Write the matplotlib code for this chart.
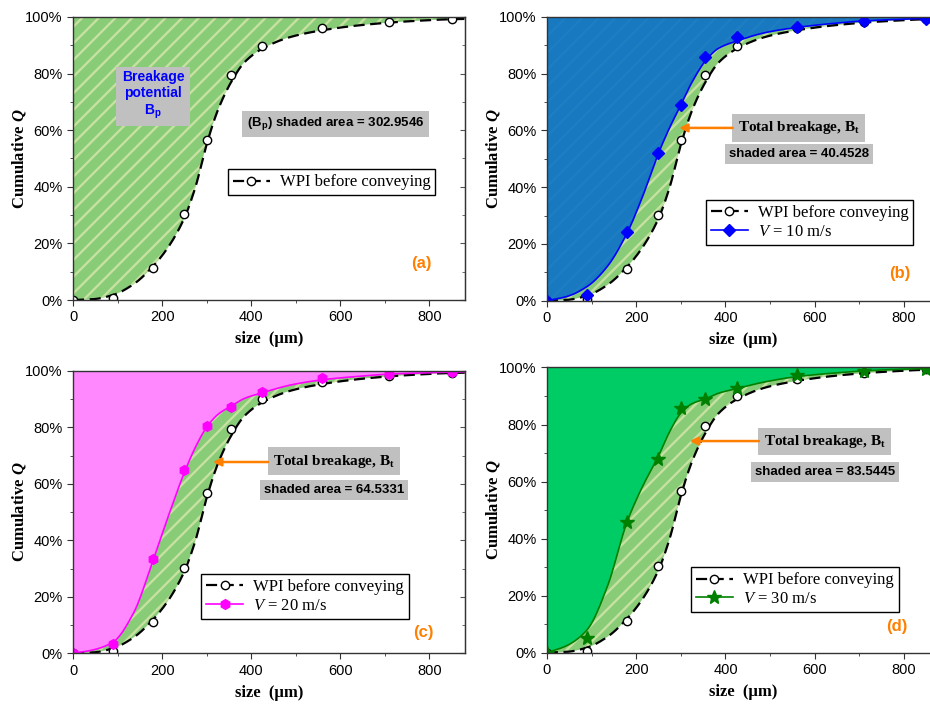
import matplotlib
matplotlib.use('Agg')
import matplotlib.pyplot as plt
from matplotlib.ticker import MultipleLocator, FuncFormatter
import numpy as np

plt.rcParams['font.family'] = ['Liberation Sans', 'DejaVu Sans']
plt.rcParams['mathtext.fontset'] = 'custom'
plt.rcParams['mathtext.rm'] = 'Liberation Serif'
plt.rcParams['mathtext.it'] = 'Liberation Serif:italic'
plt.rcParams['mathtext.bf'] = 'Liberation Serif:bold'
plt.rcParams['mathtext.bfit'] = 'Liberation Serif:italic:bold'
plt.rcParams['mathtext.sf'] = 'Liberation Sans:bold'
plt.rcParams['hatch.linewidth'] = 1.7

# measured points (sieve size in um, cumulative %)
sizes = [0, 90, 180, 250, 300, 355, 425, 560, 710, 850]
q_wpi = [0, 0.7, 11.2, 30.3, 56.7, 79.5, 89.9, 96.0, 98.2, 99.3]
q_10 = [0, 2.2, 24.1, 52.0, 68.9, 85.8, 92.8, 96.5, 98.5, 99.4]
q_20 = [0, 3.3, 33.3, 64.8, 80.4, 87.3, 92.6, 97.3, 98.9, 99.5]
q_30 = [0, 5.3, 45.9, 67.9, 85.9, 88.9, 92.9, 97.3, 98.8, 99.6]

# fitted curves
fit_x = [0, 45, 90, 135, 180, 215, 250, 275, 300, 325, 355, 385, 425, 490, 560, 640, 710, 780, 850, 880]
fit_wpi = [0, 0.3, 1.8, 5.5, 12, 19, 29, 40, 55, 67, 77, 84, 88.8, 93, 95.3, 97, 98, 98.7, 99.2, 99.3]
fit_10 = [0, 1.5, 5, 12, 24, 37, 52, 61, 69, 77, 84.5, 89, 91.5, 94.5, 96.3, 97.7, 98.6, 99.1, 99.5, 99.6]
fit_20 = [0, 1.2, 4, 14, 33, 49, 64, 73, 80, 84.5, 87.5, 90.2, 92.2, 95, 96.8, 98, 98.8, 99.2, 99.5, 99.6]
fit_30 = [0, 2.5, 8, 23, 46, 58.5, 69, 77.5, 84, 87.3, 89, 91, 92.6, 95, 96.8, 98, 98.8, 99.3, 99.6, 99.7]

areas = ['302.9546', '40.4528', '64.5331', '83.5445']


def pchip(xk, yk, xs):
    # monotone cubic, just for drawing the smooth line
    xk = np.asarray(xk, float)
    yk = np.asarray(yk, float)
    h = np.diff(xk)
    d = np.diff(yk) / h
    m = np.zeros_like(yk)
    m[0], m[-1] = d[0], d[-1]
    for k in range(1, len(xk) - 1):
        if d[k - 1] * d[k] > 0:
            w1 = 2 * h[k] + h[k - 1]
            w2 = h[k] + 2 * h[k - 1]
            m[k] = (w1 + w2) / (w1 / d[k - 1] + w2 / d[k])
    i = np.clip(np.searchsorted(xk, xs) - 1, 0, len(xk) - 2)
    t = (xs - xk[i]) / h[i]
    h00 = 2 * t**3 - 3 * t**2 + 1
    h10 = t**3 - 2 * t**2 + t
    h01 = -2 * t**3 + 3 * t**2
    h11 = t**3 - t**2
    return h00 * yk[i] + h10 * h[i] * m[i] + h01 * yk[i + 1] + h11 * h[i] * m[i + 1]


xs = np.linspace(0, 880, 600)
wpi_curve = pchip(fit_x, fit_wpi, xs)

fig = plt.figure(figsize=(9.3, 7.06), dpi=100)
axes = [
    fig.add_axes([0.0785, 0.575, 0.4215, 0.401]),
    fig.add_axes([0.588, 0.574, 0.4226, 0.402]),
    fig.add_axes([0.0785, 0.0746, 0.4215, 0.4003]),
    fig.add_axes([0.588, 0.0755, 0.4226, 0.404]),
]

panels = [
    dict(q=None, fit=None, color=None, fill=None, marker=None, label=None,
         tag='(a)', leg=(0.946, 0.491), tagpos=(781, 13)),
    dict(q=q_10, fit=fit_10, color='#0000ff', fill='#1878c0', hatch='#1e7ec3',
         marker='D', ms=6, label=r'$V$ = 10 m/s', tag='(b)', leg=(0.954, 0.384),
         tagpos=(790, 9.5), box=(564, 60.9, 51.8), arrow=(416, 296, 60.9)),
    dict(q=q_20, fit=fit_20, color='#ff00ff', fill='#ff88ff', hatch=None,
         marker='h', ms=7, label=r'$V$ = 20 m/s', tag='(c)', leg=(0.878, 0.31),
         tagpos=(786, 7.5), box=(586, 68, 57.8), arrow=(438, 314, 67.7)),
    dict(q=q_30, fit=fit_30, color='#008000', fill='#00cc66', hatch=None,
         marker='*', ms=10, label=r'$V$ = 30 m/s', tag='(d)', leg=(0.916, 0.328),
         tagpos=(784, 9.3), box=(622, 74, 63.5), arrow=(475, 320, 74.2)),
]

for n, (ax, p) in enumerate(zip(axes, panels)):
    ax.fill_between(xs, wpi_curve, 100, facecolor='#88cc78', edgecolor='#c6e1a0',
                    hatch='//', linewidth=0, zorder=1)
    if p['q'] is not None:
        v_curve = pchip(fit_x, p['fit'], xs)
        if p['hatch']:
            ax.fill_between(xs, v_curve, 100, facecolor=p['fill'], edgecolor=p['hatch'],
                            hatch='//', linewidth=0, zorder=2)
        else:
            ax.fill_between(xs, v_curve, 100, facecolor=p['fill'], linewidth=0, zorder=2)

    ax.plot(xs, wpi_curve, color='black', lw=1.6, dashes=(5, 2.5), zorder=3)
    ax.plot(sizes, q_wpi, 'o', ms=6, mfc='white', mec='black', mew=1, zorder=4)
    handles = [ax.plot([], [], color='black', lw=1.6, dashes=(5, 2.5), marker='o',
                       ms=6, mfc='white', mec='black', mew=1)[0]]
    labels = ['WPI before conveying']

    if p['q'] is not None:
        ax.plot(xs, v_curve, color=p['color'], lw=1.2, zorder=5)
        ax.plot(sizes, p['q'], p['marker'], ms=p['ms'], color=p['color'], zorder=6)
        handles.append(ax.plot([], [], color=p['color'], lw=1.2, marker=p['marker'],
                               ms=p['ms'])[0])
        labels.append(p['label'])

    leg = ax.legend(handles, labels, loc='upper right', bbox_to_anchor=p['leg'],
                    prop={'family': 'Liberation Serif', 'size': 12}, frameon=True,
                    fancybox=False, edgecolor='black', framealpha=1,
                    handlelength=2.2, handletextpad=0.6, borderpad=0.3,
                    labelspacing=0.15)
    leg.get_frame().set_linewidth(1.0)
    leg.set_zorder(10)

    if n == 0:
        ax.text(180, 72.4, 'Breakage\npotential\n' + r'$\mathsf{B_p}$', color='#0000ff',
                fontsize=10, fontweight='bold', ha='center', va='center',
                multialignment='center', linespacing=1.2, zorder=8,
                bbox=dict(boxstyle='square,pad=0.4', fc='#c0c0c0', ec='none'))
        ax.text(590, 62.2, r'($\mathsf{B_p}$) shaded area = ' + areas[0], fontsize=9.5,
                fontweight='bold', ha='center', va='center', zorder=8,
                bbox=dict(boxstyle='square,pad=0.35', fc='#c0c0c0', ec='none'))
    else:
        bx, by1, by2 = p['box']
        ax.text(bx, by1, r'Total breakage, $\mathbf{B_t}$', family='Liberation Serif',
                fontsize=11, fontweight='bold', ha='center', va='center', zorder=8,
                bbox=dict(boxstyle='square,pad=0.35', fc='#c0c0c0', ec='none'))
        ax.text(bx, by2, 'shaded area = ' + areas[n], fontsize=9.5, fontweight='bold',
                ha='center', va='center', zorder=8,
                bbox=dict(boxstyle='square,pad=0.3', fc='#c0c0c0', ec='none'))
        x0, x1, ya = p['arrow']
        ax.annotate('', xy=(x1, ya), xytext=(x0, ya), zorder=8,
                    arrowprops=dict(arrowstyle='-|>', color='#ff7f00', lw=1.8,
                                    mutation_scale=12, shrinkA=0, shrinkB=0))

    ax.text(p['tagpos'][0], p['tagpos'][1], p['tag'], color='#ff8000', fontsize=12,
            fontweight='bold', ha='center', va='center', zorder=8)

    ax.set_xlim(0, 880)
    ax.set_ylim(0, 100)
    ax.xaxis.set_major_locator(MultipleLocator(200))
    ax.xaxis.set_minor_locator(MultipleLocator(100))
    ax.yaxis.set_major_locator(MultipleLocator(20))
    ax.yaxis.set_minor_locator(MultipleLocator(10))
    ax.yaxis.set_major_formatter(FuncFormatter(lambda v, pos: '%d%%' % v))
    ax.tick_params(which='both', direction='out', labelsize=10.5, colors='#333333',
                   labelcolor='black')
    ax.tick_params(which='major', length=4)
    ax.tick_params(which='minor', length=2.5)
    sec = ax.secondary_yaxis('right')
    sec.yaxis.set_major_locator(MultipleLocator(20))
    sec.yaxis.set_minor_locator(MultipleLocator(10))
    sec.tick_params(which='both', direction='in', labelright=False, colors='#555555')
    sec.spines['right'].set_color('#555555')
    for s in ax.spines.values():
        s.set_color('#333333')
        s.set_linewidth(1.0)
        s.set_zorder(9)
    ax.set_xlabel('size  (μm)', family='Liberation Serif', fontsize=12,
                  fontweight='bold', labelpad=5)
    ax.set_ylabel(r'Cumulative $\mathbfit{Q}$', family='Liberation Serif', fontsize=12,
                  fontweight='bold', labelpad=-2)

fig.savefig('out.png', dpi=100)
